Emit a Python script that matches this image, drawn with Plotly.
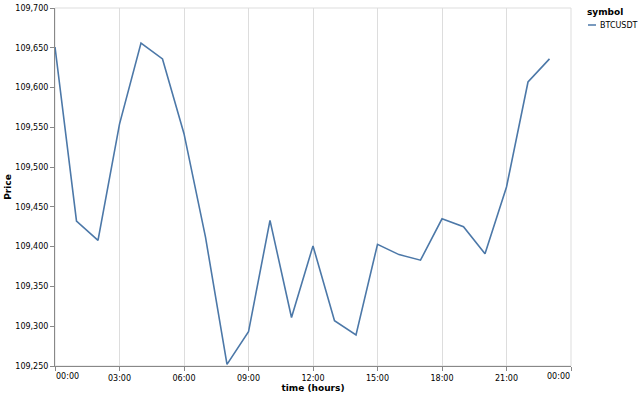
import plotly.graph_objects as go

hours = list(range(24))
prices = [109651, 109432, 109408, 109554, 109656, 109636, 109542, 109412,
          109252, 109293, 109433, 109311, 109401, 109307, 109289, 109403,
          109390, 109383, 109435, 109425, 109391, 109475, 109607, 109636]
symbol = "BTCUSDT"
day = "2025-07-01"
next_day = "2025-07-02"
tick_hours = [0, 3, 6, 9, 12, 15, 18, 21, 24]
tick_labels = ["00:00", "03:00", "06:00", "09:00", "12:00", "15:00", "18:00", "21:00", "00:00"]
y_ticks = list(range(109250, 109701, 50))

def ts(h):
    if h >= 24:
        return f"{next_day} {h-24:02d}:00:00"
    return f"{day} {h:02d}:00:00"

times = [ts(h) for h in hours]
tickvals = [ts(h) for h in tick_hours]
ticktext = [""] + tick_labels[1:-1] + [""]

color = "#4c78a8"
font = "DejaVu Sans"
lab = 8
tit = 9

fig = go.Figure()
fig.add_trace(go.Scatter(x=times, y=prices, mode="lines", name=symbol,
                         line=dict(color=color, width=1.6), showlegend=False))

fig.update_layout(
    width=640, height=395,
    margin=dict(l=55, r=69, t=8, b=29),
    paper_bgcolor="white", plot_bgcolor="white",
    font=dict(family=font, size=lab, color="#000"),
    xaxis=dict(
        type="date", range=[ts(0), ts(24)], automargin=False,
        tickmode="array", tickvals=tickvals, ticktext=ticktext,
        showgrid=True, gridcolor="#dddddd", gridwidth=1,
        showline=True, linecolor="#888888", linewidth=1,
        ticks="outside", ticklen=4, tickcolor="#888888",
        tickfont=dict(size=lab, color="#000"),
        title=dict(text="<b>time (hours)</b>", font=dict(size=tit), standoff=3),
        zeroline=False,
    ),
    yaxis=dict(
        range=[109250, 109700], tickmode="array", tickvals=y_ticks,
        tickformat=",", automargin=False,
        showgrid=False,
        showline=True, linecolor="#888888", linewidth=1,
        ticks="outside", ticklen=4, tickcolor="#888888",
        tickfont=dict(size=lab, color="#000"),
        title=dict(text="<b>Price</b>", font=dict(size=tit), standoff=2),
        zeroline=False,
    ),
)

# view border (top/right)
fig.add_shape(type="rect", xref="paper", yref="paper", x0=0, x1=1, y0=0, y1=1,
              line=dict(color="#dddddd", width=1), layer="below")

# flushed end labels for the time axis
fig.add_annotation(x=tickvals[0], y=0, xref="x", yref="paper", text=tick_labels[0],
                   showarrow=False, xanchor="left", yanchor="top", yshift=-4, xshift=-1,
                   font=dict(size=lab, color="#000"))
fig.add_annotation(x=tickvals[-1], y=0, xref="x", yref="paper", text=tick_labels[-1],
                   showarrow=False, xanchor="right", yanchor="top", yshift=-4, xshift=1,
                   font=dict(size=lab, color="#000"))

# legend
fig.add_annotation(x=1, y=1, xref="paper", yref="paper", text="<b>symbol</b>",
                   showarrow=False, xanchor="left", yanchor="top", xshift=14, yshift=3,
                   font=dict(size=tit, color="#000"))
fig.add_shape(type="line", xref="paper", yref="paper", x0=17, x1=25, y0=-17, y1=-17,
              xsizemode="pixel", ysizemode="pixel", xanchor=1, yanchor=1,
              line=dict(color=color, width=1.5))
fig.add_annotation(x=1, y=1, xref="paper", yref="paper", text=symbol,
                   showarrow=False, xanchor="left", yanchor="top", xshift=27, yshift=-11,
                   font=dict(size=lab, color="#000"))

fig.write_html("out.html")
